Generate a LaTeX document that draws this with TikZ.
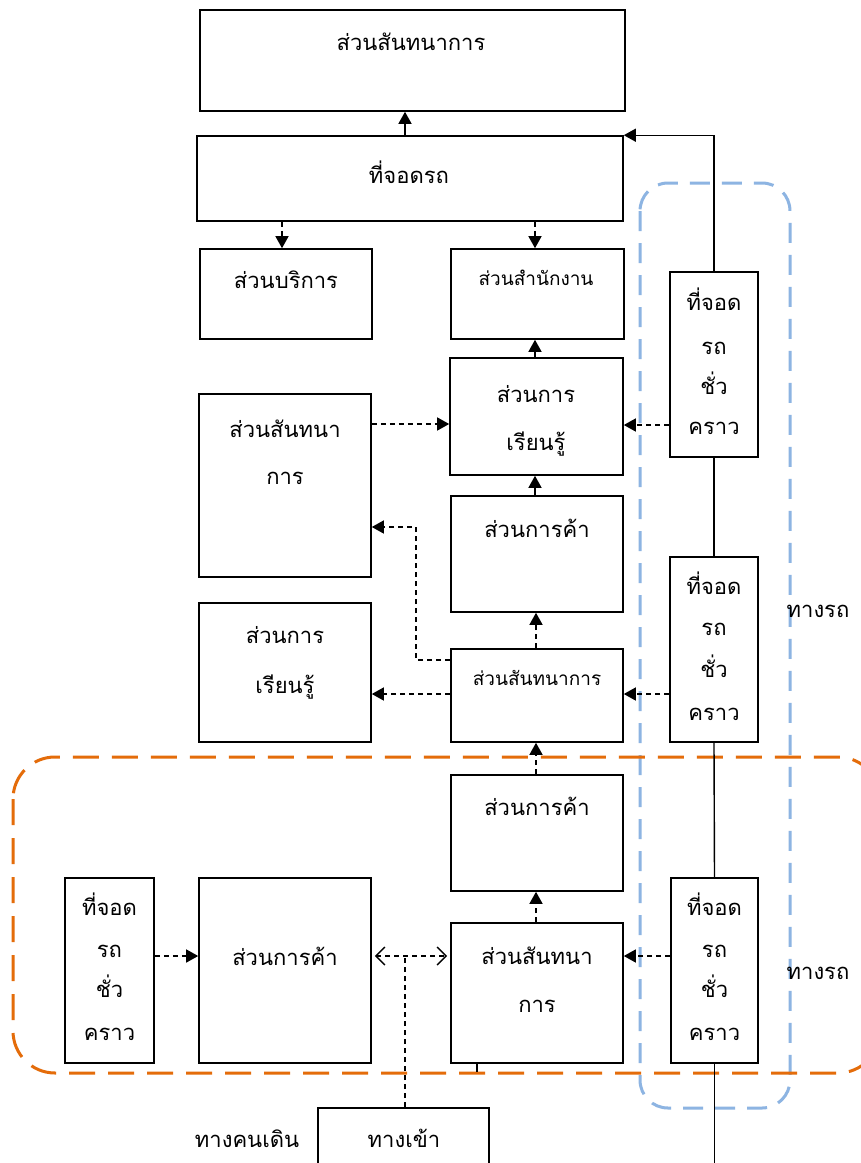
\documentclass[tikz,border=0pt]{standalone}
\usepackage{fontspec}
\newfontfamily\thai[Script=Thai]{Loma}
\usetikzlibrary{arrows.meta,calc}
\definecolor{orangeline}{RGB}{228,108,10}
\definecolor{blueline}{RGB}{141,180,226}
\tikzset{
  box/.style={draw=black,line width=1.6pt,fill=white,inner sep=0pt},
  lbl/.style={anchor=mid,inner sep=0pt,yshift=-5.5pt,font=\thai\fontsize{22}{26}\selectfont},
  slbl/.style={anchor=mid,inner sep=0pt,yshift=-5pt,font=\thai\fontsize{19}{22}\selectfont},
  darr/.style={line width=1.4pt,dash pattern=on 5pt off 4pt,-{Triangle[length=12pt,width=13pt]}},
  dline/.style={line width=1.4pt,dash pattern=on 5pt off 4pt},
  sarr/.style={line width=1.4pt,-{Triangle[length=12pt,width=13pt]}},
  road/.style={line width=1.4pt},
  openarr/.style={line width=1.4pt,dash pattern=on 5pt off 4pt,{Straight Barb[length=9pt,width=18pt]}-{Straight Barb[length=9pt,width=18pt]}},
  zoneO/.style={draw=orangeline,line width=3pt,dash pattern=on 26pt off 13pt,rounded corners=42pt},
  zoneB/.style={draw=blueline,line width=3pt,dash pattern=on 20pt off 12pt,rounded corners=28pt},
}
\begin{document}
\begin{tikzpicture}[x=1pt,y=-1pt]
\useasboundingbox (0,0) rectangle (861,1163);
\fill[white] (0,0) rectangle (861,1163);

% boxes
\node[box,minimum width=425pt,minimum height=101pt] (top) at (412.5,60.5) {};
\node[box,minimum width=426pt,minimum height=85pt] (park) at (410,178.5) {};
\node[box,minimum width=172pt,minimum height=90pt] (serv) at (286,294) {};
\node[box,minimum width=173pt,minimum height=90pt] (office) at (537.5,294) {};
\node[box,minimum width=173pt,minimum height=117pt] (learn) at (536.5,416.5) {};
\node[box,minimum width=172pt,minimum height=183pt] (recL) at (285,485.5) {};
\node[box,minimum width=172pt,minimum height=116pt] (trade1) at (537,554) {};
\node[box,minimum width=172pt,minimum height=93pt] (rec1) at (537,695.5) {};
\node[box,minimum width=172pt,minimum height=139pt] (learnL) at (285,672.5) {};
\node[box,minimum width=88pt,minimum height=185pt] (pk1) at (714,364.5) {};
\node[box,minimum width=88pt,minimum height=185pt] (pk2) at (714,649.5) {};
\node[box,minimum width=172pt,minimum height=116pt] (trade2) at (537,833) {};
\node[box,minimum width=172pt,minimum height=140pt] (rec2) at (537,993) {};
\node[box,minimum width=172pt,minimum height=185pt] (trade3) at (285,970.5) {};
\node[box,minimum width=89pt,minimum height=185pt] (pkL) at (109.5,970.5) {};
\node[box,minimum width=87pt,minimum height=185pt] (pk3) at (714.5,970.5) {};
\node[box,minimum width=171pt,minimum height=56pt] (gate) at (403.5,1136) {};

% zones
\draw[zoneB] (640,183) rectangle (790,1108);
\draw[zoneO] (13,757) rectangle (880,1073);

% road line with parking boxes
\coordinate (roadend) at (715,1163);
\draw[sarr] (pk1.north) |- (park.north east);
\draw[road] (pk1.south) -- (pk2.north);
\draw[road] (pk2.south) -- (pk3.north);
\draw[road] (pk3.south) -- (pk3.south |- roadend);

% labels
\node[lbl] (t1) at (411,43) {ส่วนสันทนาการ};
\node[lbl] (t2) at (409,176) {ที่จอดรถ};
\node[lbl] (t3) at (286,281) {ส่วนบริการ};
\node[slbl] (t4) at (536,278) {ส่วนสำนักงาน};
\node[lbl] (t5a) at (536,395) {ส่วนการ};
\node[lbl] (t5b) at (536,443) {เรียนรู้};
\node[lbl] (t6a) at (285,430) {ส่วนสันทนา};
\node[lbl] (t6b) at (285,477) {การ};
\node[lbl] (t7) at (537,530) {ส่วนการค้า};
\node[slbl] (t8) at (537,678) {ส่วนสันทนาการ};
\node[lbl] (t9a) at (285,636) {ส่วนการ};
\node[lbl] (t9b) at (285,686) {เรียนรู้};
\foreach \n/\y in {pk1/303,pk2/587,pk3/908,pkL/908}{
  \node[lbl] (\n a) at (\n.center |- 0,\y) {ที่จอด};
}
\foreach \n/\y in {pk1/347,pk2/628,pk3/950,pkL/950}{
  \node[lbl] (\n b) at (\n.center |- 0,\y) {รถ};
}
\foreach \n/\y in {pk1/387,pk2/670,pk3/990,pkL/990}{
  \node[lbl] (\n c) at (\n.center |- 0,\y) {ชั่ว};
}
\foreach \n/\y in {pk1/427,pk2/713,pk3/1033,pkL/1033}{
  \node[lbl] (\n d) at (\n.center |- 0,\y) {คราว};
}
\node[lbl] (road1) at (818,610) {ทางรถ};
\node[lbl] (road2) at (818,972) {ทางรถ};
\node[lbl] (t10) at (537,808) {ส่วนการค้า};
\node[lbl] (t11a) at (537,957) {ส่วนสันทนา};
\node[lbl] (t11b) at (537,1005) {การ};
\node[lbl] (t12) at (285,958) {ส่วนการค้า};
\node[lbl] (t13) at (404,1140) {ทางเข้า};
\node[lbl] (walk) at (247,1140) {ทางคนเดิน};

% connectors
\draw[sarr] (park.north -| 405,0) -- (top.south -| 405,0);
\draw[darr] (park.south -| 282,0) -- (serv.north -| 282,0);
\draw[darr] (park.south -| 535,0) -- (office.north -| 535,0);
\draw[sarr] (learn.north -| 535,0) -- (office.south -| 535,0);
\draw[sarr] (trade1.north -| 535,0) -- (learn.south -| 535,0);
\draw[darr] (recL.east |- 0,424) -- (learn.west |- 0,424);
\draw[darr] (pk1.west |- 0,425) -- (learn.east |- 0,425);
\coordinate (bend) at (416,527);
\draw[darr] (rec1.west |- 0,660) -| (bend) -- (recL.east |- bend);
\draw[darr] (rec1.west |- 0,694) -- (learnL.east |- 0,694);
\draw[darr] (pk2.west |- 0,694) -- (rec1.east |- 0,694);
\draw[darr] (rec1.north -| 536,0) -- (trade1.south -| 536,0);
\draw[darr] (trade2.north -| 536,0) -- (rec1.south -| 536,0);
\draw[darr] (rec2.north -| 536,0) -- (trade2.south -| 536,0);
\draw[darr] (pkL.east |- 0,956) -- (trade3.west |- 0,956);
\draw[darr] (pk3.west |- 0,956) -- (rec2.east |- 0,956);
\draw[openarr] ($(trade3.east |- 0,956)+(3,0)$) -- ($(rec2.west |- 0,956)+(-3,0)$);
\coordinate (junc) at (405,956);
\draw[dline] (gate.north -| junc) -- (junc);
\draw[road] (rec2.south -| 477,0) -- ++(0,8);
\end{tikzpicture}
\end{document}
